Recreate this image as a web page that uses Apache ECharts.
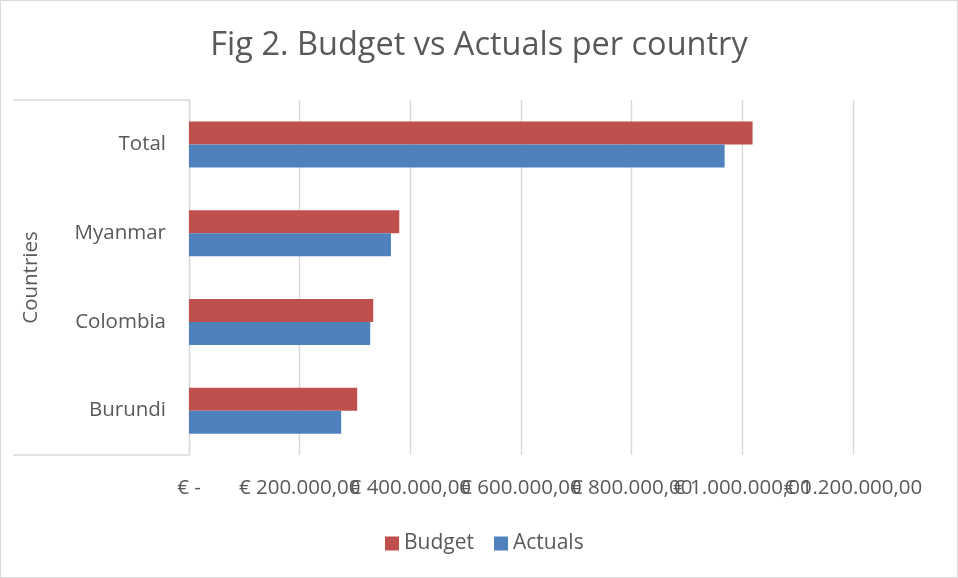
<!DOCTYPE html>
<html>
<head>
<meta charset="utf-8">
<script src="https://cdn.jsdelivr.net/npm/echarts@6/dist/echarts.min.js"></script>
<style>
  html, body { margin: 0; padding: 0; background: #fff; }
  #chart { width: 958px; height: 578px; }
</style>
</head>
<body>
<div id="chart"></div>
<script>
const categories = ['Burundi', 'Colombia', 'Myanmar', 'Total'];
const budget  = [304000, 333000, 380000, 1018500];
const actuals = [275000, 327500, 365000, 968000];
const xTickValues = [0, 200000, 400000, 600000, 800000, 1000000, 1200000];
const xTickLabels = ['€ -', '€ 200.000,00', '€ 400.000,00', '€ 600.000,00', '€ 800.000,00', '€ 1.000.000,00', '€ 1.200.000,00'];

const FONT = 'Open Sans';
const TXT = '#595959';
const GRID = { left: 189, right: 105, top: 100, bottom: 123 };

// Two identical value axes share the grid; each prints every other tick label
// so that the overlapping Excel-style labels are all kept.
function makeXAxis(parity, primary) {
  return {
    type: 'value',
    gridIndex: 0,
    position: 'bottom',
    min: 0,
    max: 1200000,
    interval: 200000,
    axisLine: { show: false },
    axisTick: { show: false },
    splitLine: { show: primary, lineStyle: { color: '#d9d9d9', width: 1.4 } },
    axisLabel: {
      color: TXT,
      fontFamily: FONT,
      fontSize: 20.5,
      margin: 23,
      showMinLabel: true,
      showMaxLabel: true,
      hideOverlap: false,
      formatter: function (v) {
        const i = xTickValues.indexOf(v);
        return (i >= 0 && i % 2 === parity) ? xTickLabels[i] : '';
      }
    }
  };
}

const chart = echarts.init(document.getElementById('chart'), null, { renderer: 'canvas' });
chart.setOption({
  backgroundColor: '#ffffff',
  animation: false,
  textStyle: { fontFamily: FONT },
  title: {
    text: 'Fig 2. Budget vs Actuals per country',
    left: 'center',
    top: 24,
    textStyle: { fontFamily: FONT, fontSize: 32.5, fontWeight: 'normal', color: TXT }
  },
  legend: {
    data: ['Budget', 'Actuals'],
    left: 380,
    top: 528,
    itemWidth: 14,
    itemHeight: 14,
    itemGap: 20,
    icon: 'rect',
    textStyle: { fontFamily: FONT, fontSize: 21, color: TXT }
  },
  grid: GRID,
  xAxis: [makeXAxis(0, true), makeXAxis(1, false)],
  yAxis: {
    type: 'category',
    data: categories,
    name: 'Countries',
    nameLocation: 'middle',
    nameGap: 147,
    nameRotate: 90,
    nameTextStyle: { color: TXT, fontFamily: FONT, fontSize: 20.5 },
    axisLine: { show: true, lineStyle: { color: '#d9d9d9', width: 1.4 } },
    axisTick: { show: false },
    axisLabel: { color: TXT, fontFamily: FONT, fontSize: 20.5, margin: 23 }
  },
  series: [
    {
      name: 'Budget',
      type: 'bar',
      xAxisIndex: 0,
      data: budget,
      barWidth: 23,
      barGap: '0%',
      itemStyle: { color: '#C0504D' }
    },
    {
      name: 'Actuals',
      type: 'bar',
      xAxisIndex: 0,
      data: actuals,
      barWidth: 23,
      barGap: '0%',
      itemStyle: { color: '#4F81BD' }
    }
  ],
  graphic: [
    {
      type: 'rect',
      silent: true,
      shape: { x: 0.5, y: 0.5, width: 957, height: 577 },
      style: { fill: 'none', stroke: '#d9d9d9', lineWidth: 1 }
    },
    {
      type: 'line',
      silent: true,
      shape: { x1: 13, y1: GRID.top, x2: GRID.left, y2: GRID.top },
      style: { stroke: '#d9d9d9', lineWidth: 1.4 }
    },
    {
      type: 'line',
      silent: true,
      shape: { x1: 13, y1: 578 - GRID.bottom, x2: GRID.left, y2: 578 - GRID.bottom },
      style: { stroke: '#d9d9d9', lineWidth: 1.4 }
    }
  ]
});
</script>
</body>
</html>
